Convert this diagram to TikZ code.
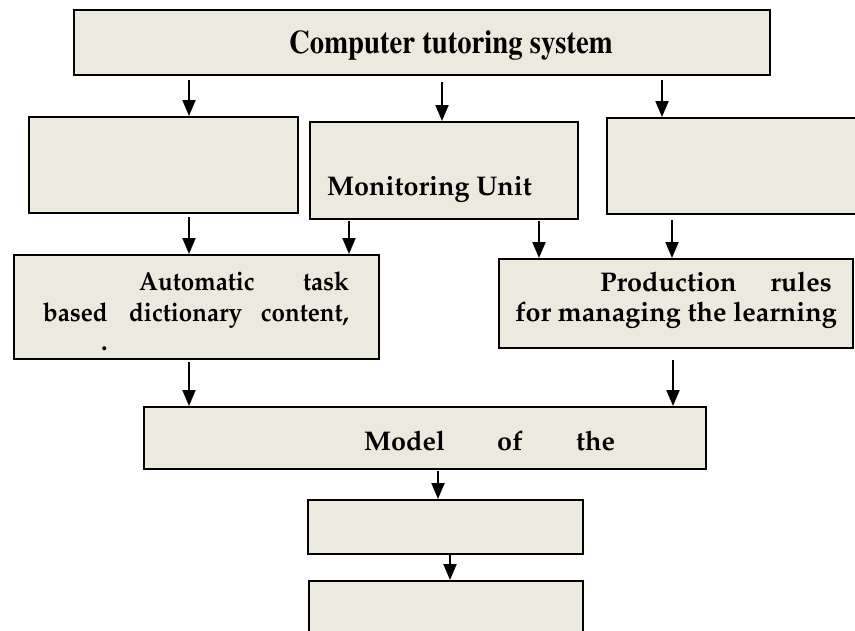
\documentclass[tikz,border=0pt]{standalone}
\usepackage[T1]{fontenc}
\usepackage{graphicx}
\usetikzlibrary{arrows.meta}
\definecolor{boxfill}{RGB}{236,233,223}
\newcommand\narrow[1]{\scalebox{0.93}[1]{#1}}
\tikzset{
  box/.style={draw=black, line width=1.8pt, fill=boxfill, inner sep=0pt, anchor=north west},
  arr/.style={line width=2pt, -{Triangle[length=16pt,width=13pt]}},
  ptxt/.style={font=\fontfamily{ppl}\fontseries{b}\fontsize{27}{30}\selectfont, inner sep=0pt},
  atxt/.style={font=\fontfamily{ppl}\fontseries{b}\fontsize{26}{30}\selectfont, inner sep=0pt},
  ttxt/.style={font=\fontfamily{ptm}\fontseries{b}\fontsize{28.7}{32}\selectfont, inner sep=0pt},
}
\begin{document}
\begin{tikzpicture}[x=1pt,y=-1pt]
\clip (0,0) rectangle (855,630);
\fill[white] (0,0) rectangle (855,630);
% boxes
\node[box, minimum width=696pt, minimum height=65pt] (T) at (73,9) {};
\node[box, minimum width=269pt, minimum height=96pt] (L1) at (28,116) {};
\node[box, minimum width=268pt, minimum height=97pt] (M1) at (309,121) {};
\node[box, minimum width=270pt, minimum height=96pt] (R1) at (606,117) {};
\node[box, minimum width=365pt, minimum height=104pt] (A) at (13,254) {};
\node[box, minimum width=354pt, minimum height=89pt] (P) at (498,258) {};
\node[box, minimum width=562pt, minimum height=62pt] (Mo) at (143,406) {};
\node[box, minimum width=275pt, minimum height=54pt] (E1) at (307,499) {};
\node[box, minimum width=274pt, minimum height=70pt] (E2) at (308,580) {};
% texts
\node[ttxt, anchor=base] (tT) at (451,53) {\scalebox{1}[1.15]{Computer tutoring system}};
\node[ptxt, anchor=base west] (tM) at (327,195) {Monitoring Unit};
\node[atxt, anchor=base west] (tA1) at (139,290) {\narrow{Automatic}};
\node[atxt, anchor=base east] (tA2) at (349,290) {\narrow{task}};
\node[atxt, anchor=base west] (tA3) at (43,321) {\narrow{based}};
\node[atxt, anchor=base west] (tA4) at (129,321) {\narrow{dictionary}};
\node[atxt, anchor=base east] (tA5) at (349,321) {\narrow{content,}};
\node[atxt, anchor=base west] (tA6) at (101,350) {.};
\node[ptxt, anchor=base west] (tP1) at (600,291) {Production};
\node[ptxt, anchor=base east] (tP2) at (832,291) {rules};
\node[ptxt, anchor=base east] (tP3) at (837,321) {for managing the learning};
\node[ptxt, anchor=base west] (tMo1) at (364,450) {Model};
\node[ptxt, anchor=base west] (tMo2) at (497,450) {of};
\node[ptxt, anchor=base west] (tMo3) at (576,450) {the};
% arrow start points
\coordinate (a1) at (189,80);
\coordinate (a2) at (442,82);
\coordinate (a3) at (662,80);
\coordinate (a4) at (189,217);
\coordinate (a5) at (349,221);
\coordinate (a6) at (539,221);
\coordinate (a7) at (672,220);
\coordinate (a8) at (189,362);
\coordinate (a9) at (673,360);
\coordinate (a10) at (438,471);
\coordinate (a11) at (450,555);
% arrows
\draw[arr] (a1) -- (a1 |- L1.north);
\draw[arr] (a2) -- (a2 |- M1.north);
\draw[arr] (a3) -- (a3 |- R1.north);
\draw[arr] (a4) -- (a4 |- A.north);
\draw[arr] (a5) -- (a5 |- A.north);
\draw[arr] (a6) -- (a6 |- P.north);
\draw[arr] (a7) -- (a7 |- P.north);
\draw[arr] (a8) -- (a8 |- Mo.north);
\draw[arr] (a9) -- (a9 |- Mo.north);
\draw[arr] (a10) -- (a10 |- E1.north);
\draw[arr] (a11) -- (a11 |- E2.north);
\end{tikzpicture}
\end{document}
